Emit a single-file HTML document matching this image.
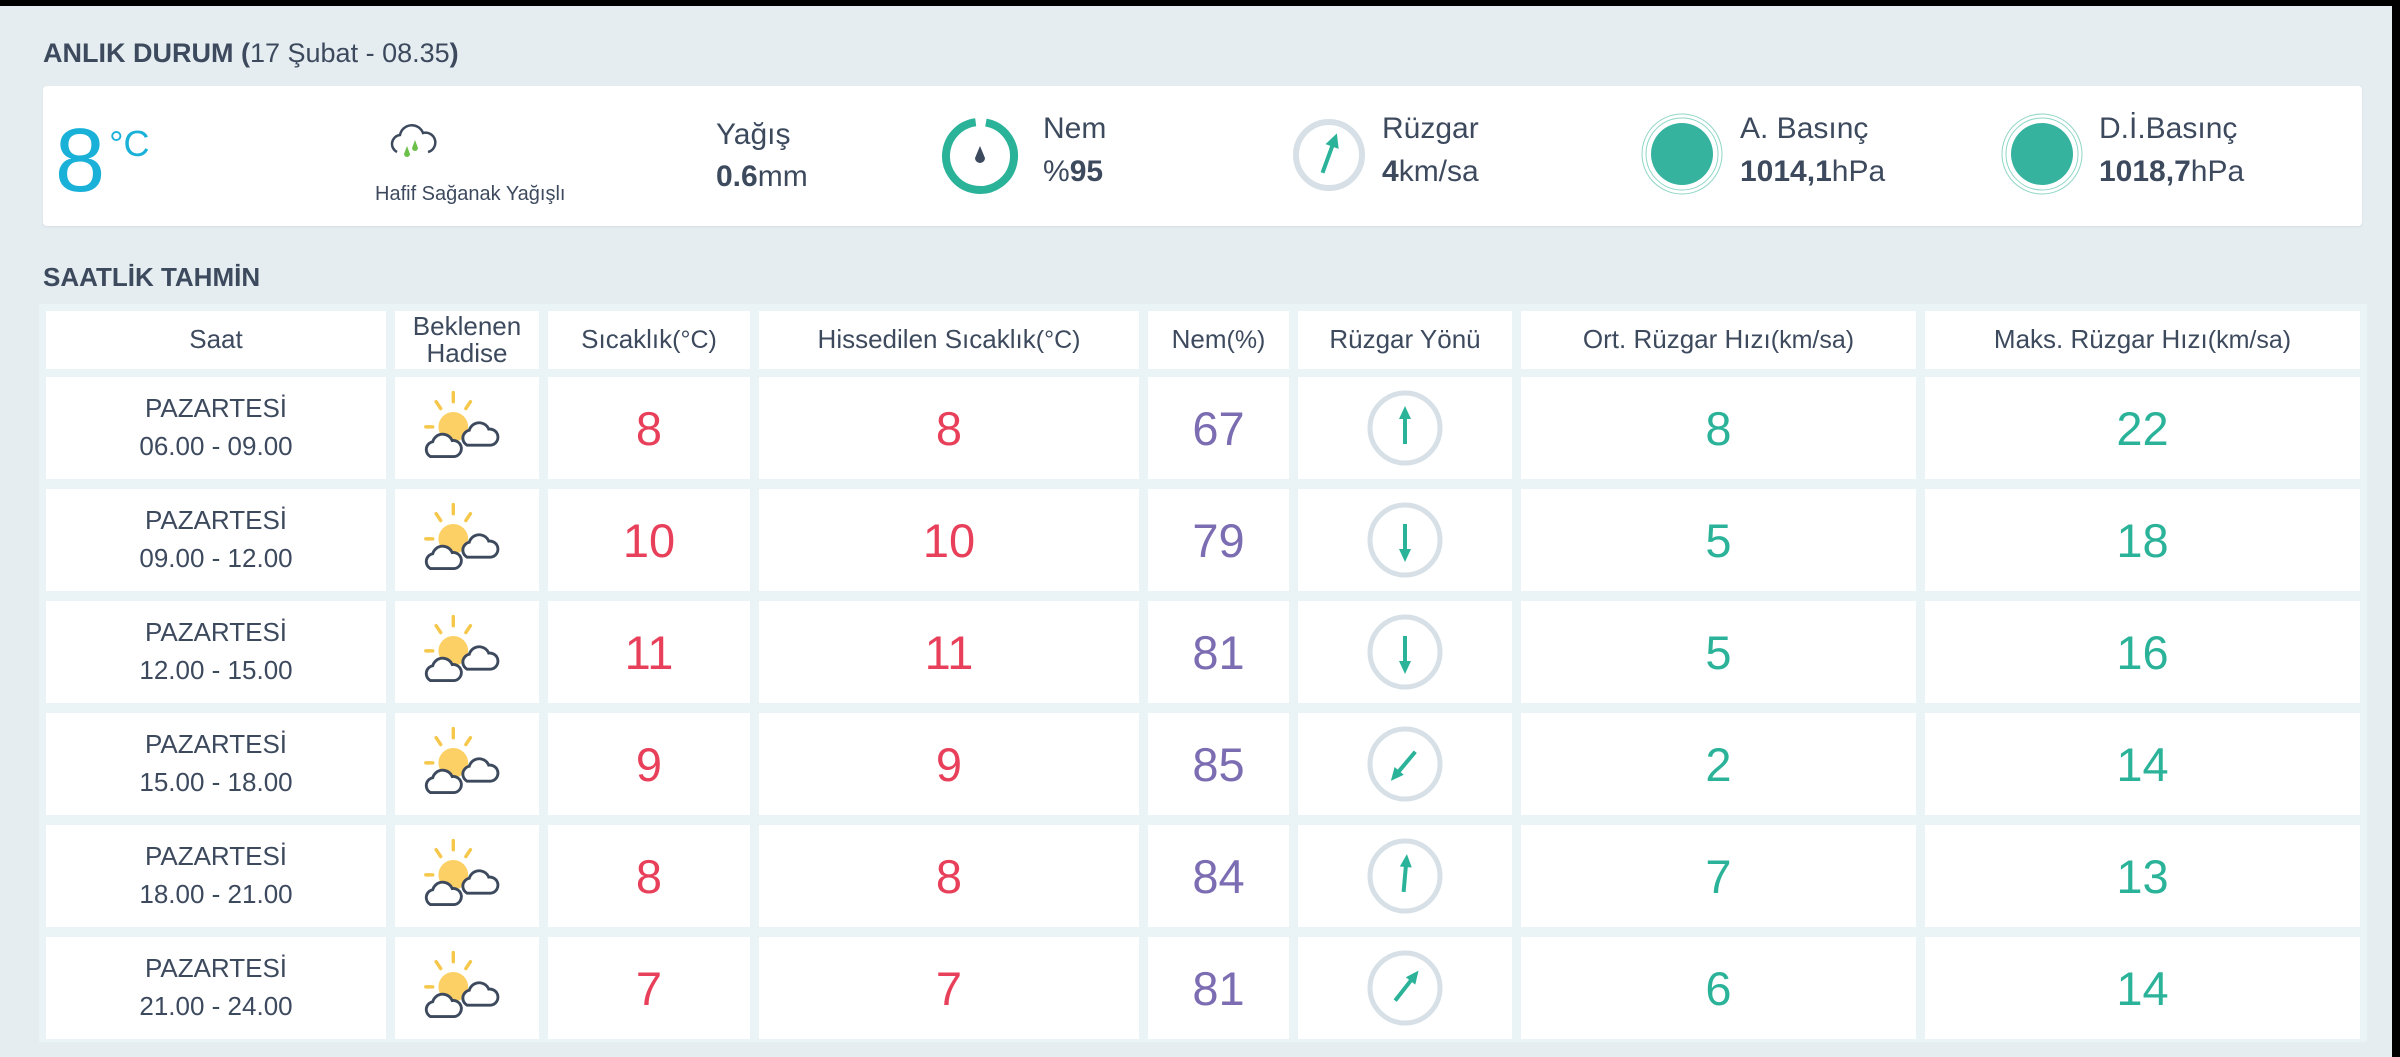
<!DOCTYPE html>
<html><head><meta charset="utf-8"><style>
body{margin:0;width:2400px;height:1057px;overflow:hidden;background:#e5edf1;font-family:"Liberation Sans",sans-serif;color:#3d4a5e;position:relative}
.a{position:absolute}
.cell{position:absolute;background:#fff;display:flex;align-items:center;justify-content:center;text-align:center}
.t{font-size:26px;color:#3d4a5e}
.t span{font-size:25px}
.v{font-size:47px}
</style></head><body>
<div class="a" style="left:0;top:0;width:2400px;height:6px;background:#000"></div>
<div class="a" style="left:2392px;top:0;width:8px;height:1057px;background:#000"></div>
<div class="a" style="left:43px;top:38px;font-size:27px"><b>ANLIK DURUM (</b>17 Şubat - 08.35<b>)</b></div>
<div class="a" style="left:43px;top:86px;width:2319px;height:140px;background:#fff;border-radius:4px;box-shadow:0 1px 2px #d5dee4"></div>
<div class="a" style="left:55px;top:116px;font-size:90px;color:#1ab1d8;line-height:1">8<span style="font-size:36px;vertical-align:top;position:relative;top:10px;left:4px">°C</span></div>
<svg class="a" style="left:385px;top:122px" width="60" height="44" viewBox="0 0 60 44"><path d="M12 30a9 9 0 0 1 3-17 12 12 0 0 1 23-2 9 9 0 0 1 5 19" fill="none" stroke="#3d4a5e" stroke-width="2.5"/><path d="M22 24l-3 8a3 3 0 0 0 6 0z M30 18l-3 8a3 3 0 0 0 6 0z" fill="#6cc04a"/></svg>
<div class="a" style="left:375px;top:183px;font-size:20px">Hafif Sağanak Yağışlı</div>
<div class="a" style="left:716px;top:118px;font-size:30px">Yağış</div>
<div class="a" style="left:716px;top:160px;font-size:30px"><b>0.6</b>mm</div>
<svg class="a" style="left:940px;top:116px" width="80" height="80"><circle cx="40" cy="40" r="34" fill="none" stroke="#2bb39a" stroke-width="8" stroke-dasharray="203 214" transform="rotate(-80 40 40)"/><path d="M40 30l-5 12a5 5 0 0 0 10 0z" fill="#3d4a5e"/></svg>
<div class="a" style="left:1043px;top:112px;font-size:30px">Nem</div>
<div class="a" style="left:1043px;top:155px;font-size:30px">%<b>95</b></div>
<svg class="a" style="left:1291px;top:116px" width="76" height="78"><circle cx="38" cy="39" r="33" fill="none" stroke="#d6e0e6" stroke-width="6"/><g transform="rotate(20 38 39)"><rect x="36" y="28" width="4" height="30" fill="#2bb39a"/><path d="M31 30L38 16L45 30z" fill="#2bb39a"/></g></svg>
<div class="a" style="left:1382px;top:112px;font-size:30px">Rüzgar</div>
<div class="a" style="left:1382px;top:155px;font-size:30px"><b>4</b>km/sa</div>
<svg class="a" style="left:1640px;top:112px" width="84" height="84"><circle cx="42" cy="42" r="40" fill="none" stroke="#8fd6c6" stroke-width="1"/><circle cx="42" cy="42" r="36" fill="none" stroke="#8fd6c6" stroke-width="1"/><circle cx="42" cy="42" r="31" fill="#35b39e"/></svg>
<div class="a" style="left:1740px;top:112px;font-size:30px">A. Basınç</div>
<div class="a" style="left:1740px;top:155px;font-size:30px"><b>1014,1</b>hPa</div>
<svg class="a" style="left:2000px;top:112px" width="84" height="84"><circle cx="42" cy="42" r="40" fill="none" stroke="#8fd6c6" stroke-width="1"/><circle cx="42" cy="42" r="36" fill="none" stroke="#8fd6c6" stroke-width="1"/><circle cx="42" cy="42" r="31" fill="#35b39e"/></svg>
<div class="a" style="left:2099px;top:112px;font-size:30px">D.İ.Basınç</div>
<div class="a" style="left:2099px;top:155px;font-size:30px"><b>1018,7</b>hPa</div>
<div class="a" style="left:43px;top:262px;font-size:26px;font-weight:bold">SAATLİK TAHMİN</div>
<div class="a" id="tbl" style="left:39px;top:304px;width:2328px;height:738px;background:#eaf3f6"></div>
<script>
const headers=["Saat","Beklenen<br>Hadise","Sıcaklık <span>(°C)</span>","Hissedilen Sıcaklık <span>(°C)</span>","Nem <span>(%)</span>","Rüzgar Yönü","Ort. Rüzgar Hızı <span>(km/sa)</span>","Maks. Rüzgar Hızı <span>(km/sa)</span>"];
const times=["06.00 - 09.00","09.00 - 12.00","12.00 - 15.00","15.00 - 18.00","18.00 - 21.00","21.00 - 24.00"];
const temps=[8,10,11,9,8,7];
const feels=[8,10,11,9,8,7];
const humidity=[67,79,81,85,84,81];
const windDir=[0,180,180,220,5,38];
const windAvg=[8,5,5,2,7,6];
const windMax=[22,18,16,14,13,14];
const colX=[46,395,548,759,1148,1298,1521,1925,2369];
const tbl=document.body;
function cell(x0,x1,y,h,html,name,cls,color){
  const d=document.createElement('div');
  d.className='cell '+cls;
  d.style.left=x0+'px';d.style.top=y+'px';d.style.width=(x1-x0)+'px';d.style.height=h+'px';
  if(color)d.style.color=color;
  d.innerHTML=html;
  
  
  tbl.appendChild(d);return d;
}
headers.forEach((h,i)=>{
  const c=cell(colX[i],colX[i+1]-9,311,58,h,'header-cell','t');
  c.style.lineHeight='1.05';
});
const sunIcon='<svg width="96" height="80" viewBox="0 0 84 70"><g stroke="#f5c84c" stroke-width="3" stroke-linecap="round"><line x1="30" y1="4" x2="30" y2="12"/><line x1="15" y1="12" x2="19" y2="18"/><line x1="45" y1="12" x2="41" y2="18"/><line x1="6" y1="34" x2="12" y2="34"/></g><circle cx="30" cy="34" r="13" fill="#fdd066"/><path d="M10 60a7 7 0 0 1 2-13 9 9 0 0 1 17-1 7 7 0 0 1 2 14z" fill="#fff" stroke="#3d4a5e" stroke-width="2.5"/><path d="M42 50a7 7 0 0 1 2-13 9 9 0 0 1 17-1 7 7 0 0 1 2 14z" fill="#fff" stroke="#3d4a5e" stroke-width="2.5"/></svg>';
times.forEach((t,r)=>{
  const y=377+r*112,h=102;
  cell(colX[0],colX[1]-9,y,h,'PAZARTESİ<br>'+t,'time-cell','t').style.lineHeight='1.45';
  cell(colX[1],colX[2]-9,y,h,sunIcon,'weather-icon','');
  cell(colX[2],colX[3]-9,y,h,temps[r],'temp-value','v','#e8405a');
  cell(colX[3],colX[4]-9,y,h,feels[r],'feels-value','v','#e8405a');
  cell(colX[4],colX[5]-9,y,h,humidity[r],'humidity-value','v','#7c6db3');
  cell(colX[5],colX[6]-9,y,h,'<svg width="80" height="80"><circle cx="40" cy="40" r="35" fill="none" stroke="#d6e0e6" stroke-width="5"/><g transform="rotate('+windDir[r]+' 40 40)"><rect x="38" y="28" width="4" height="28" fill="#2bb39a"/><path d="M34 31L40 18L46 31z" fill="#2bb39a"/></g></svg>','wind-direction','');
  cell(colX[6],colX[7]-9,y,h,windAvg[r],'wind-avg-value','v','#2bb39a');
  cell(colX[7],colX[8]-9,y,h,windMax[r],'wind-max-value','v','#2bb39a');
});
</script>
</body></html>
